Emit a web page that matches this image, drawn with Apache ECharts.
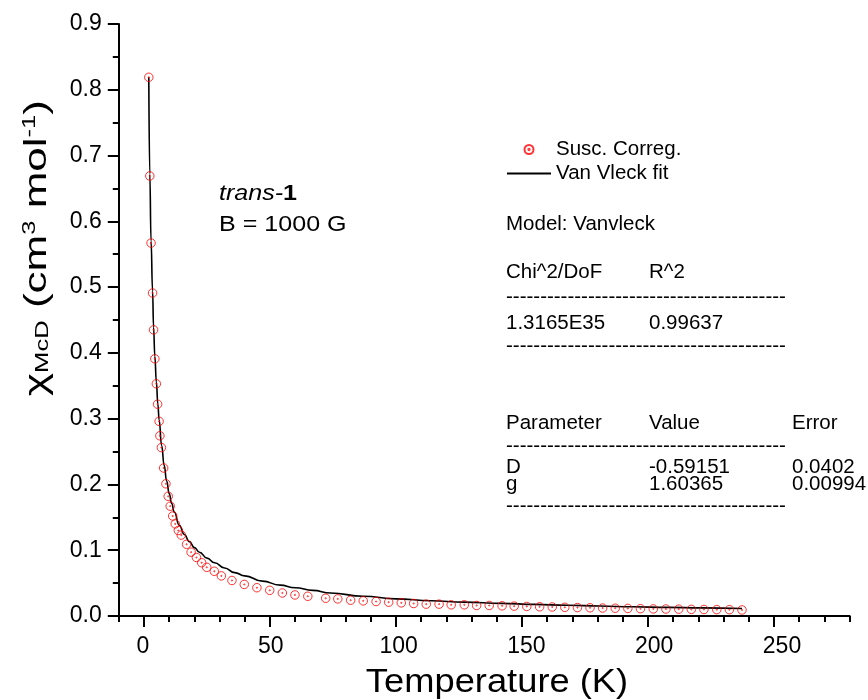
<!DOCTYPE html>
<html>
<head>
<meta charset="utf-8">
<script src="https://cdn.jsdelivr.net/npm/echarts@6/dist/echarts.min.js"></script>
<style>
  html, body { margin: 0; padding: 0; background: #fff; }
  #chart { width: 868px; height: 700px; }
</style>
</head>
<body>
<div id="chart"></div>
<script>
// Measured susceptibility (corrected) vs temperature
const temperature = [1.9, 2.3, 2.8, 3.4, 3.8, 4.3, 4.9, 5.4, 6.0, 6.3, 6.9, 7.8, 8.7, 9.6, 10.4, 11.4, 12.4, 13.6, 14.8, 16.9,
  18.7, 20.8, 22.9, 24.9, 27.9, 30.7, 34.9, 39.8, 44.8, 49.9, 54.9, 59.9, 65.0, 72.1, 76.9, 82.0, 87.0, 92.1, 97.1, 102.1,
  107.0, 112.0, 117.1, 121.9, 127.1, 132.0, 137.0, 142.1, 146.9, 151.9, 157.0, 162.0, 167.0, 172.0, 177.0, 182.0, 187.0,
  192.0, 197.0, 202.1, 207.1, 212.2, 217.2, 222.2, 227.3, 232.3, 237.3];
const chiMcD = [0.819, 0.669, 0.567, 0.491, 0.435, 0.391, 0.353, 0.322, 0.296, 0.274, 0.256, 0.225, 0.201, 0.182, 0.167, 0.152,
  0.140, 0.130, 0.123, 0.109, 0.097, 0.089, 0.081, 0.074, 0.068, 0.061, 0.054, 0.048, 0.043, 0.039, 0.035, 0.032, 0.030,
  0.027, 0.026, 0.024, 0.023, 0.022, 0.021, 0.020, 0.019, 0.018, 0.018, 0.017, 0.017, 0.016, 0.016, 0.0155, 0.0150, 0.0145,
  0.0140, 0.0137, 0.0132, 0.0128, 0.0125, 0.0121, 0.0118, 0.0115, 0.0111, 0.0108, 0.0106, 0.0104, 0.0101, 0.0099, 0.0097,
  0.0096, 0.0092];

// Van Vleck fit curve
const fitTemperature = [1.9, 2.3, 2.8, 3.4, 3.8, 4.3, 4.9, 5.5, 6.0, 7.0, 8.0, 9.0, 10, 11, 12, 14, 16, 18, 20, 22, 25, 28,
  32, 36, 40, 47, 54, 60, 67, 74, 87, 100, 114, 127, 142, 155, 168, 181, 194, 208, 221, 237.3];
const fitChi = [0.819, 0.672, 0.570, 0.494, 0.439, 0.395, 0.356, 0.322, 0.298, 0.259, 0.229, 0.205, 0.186, 0.171, 0.158,
  0.138, 0.124, 0.113, 0.104, 0.097, 0.088, 0.081, 0.073, 0.066, 0.061, 0.053, 0.047, 0.043, 0.039, 0.035, 0.030, 0.026,
  0.0232, 0.0211, 0.0192, 0.0176, 0.0163, 0.0151, 0.0140, 0.0131, 0.0123, 0.0114];

// Axis ticks
const xMajorTicks = [0, 50, 100, 150, 200, 250];
const xMinorTicks = [-10, 10, 20, 30, 40, 60, 70, 80, 90, 110, 120, 130, 140, 160, 170, 180, 190, 210, 220, 230, 240, 260, 270, 280];

// Fit report
const fitModel = 'Model: Vanvleck';
const statHeaders = ['Chi^2/DoF', 'R^2'];
const statValues = ['1.3165E35', '0.99637'];
const paramHeaders = ['Parameter', 'Value', 'Error'];
const paramRows = [['D', '-0.59151', '0.0402'], ['g', '1.60365', '0.00994']];

const FONT = 'Liberation Sans, Arial, sans-serif';
const DASHES = '-'.repeat(41);

const chart = echarts.init(document.getElementById('chart'), null, { renderer: 'canvas' });

// open circle with a centre dot
const ring = 'path://M0,-10A10,10 0 1,0 0,10A10,10 0 1,0 0,-10Z M0,-1.4A1.4,1.4 0 1,0 0,1.4A1.4,1.4 0 1,0 0,-1.4Z';

function txt(text, x, y, size, opts) {
  const o = opts || {};
  return {
    type: 'text', x: x, y: y, silent: true, scaleX: o.scaleX || 1,
    style: { text: text, fill: '#000', fontSize: size, fontFamily: FONT, align: o.align || 'left', verticalAlign: 'middle' }
  };
}

const tableSize = 20.5;
const noteScale = 1.14;
const graphics = [
  {
    type: 'text', x: 219, y: 194, silent: true, scaleX: noteScale,
    style: {
      text: '{i|trans-}{b|1}', verticalAlign: 'middle', align: 'left',
      rich: {
        i: { fontSize: 22, fontFamily: FONT, fontStyle: 'italic', fill: '#000' },
        b: { fontSize: 22, fontFamily: FONT, fontWeight: 'bold', fill: '#000' }
      }
    }
  },
  txt('B = 1000 G', 219, 225, 22, { scaleX: noteScale }),
  txt(fitModel, 506, 224, tableSize),
  txt(statHeaders[0], 506, 272, tableSize),
  txt(statHeaders[1], 649, 272, tableSize),
  txt(DASHES, 506, 297, tableSize),
  txt(statValues[0], 506, 323, tableSize),
  txt(statValues[1], 649, 323, tableSize),
  txt(DASHES, 506, 346, tableSize),
  txt(paramHeaders[0], 506, 423, tableSize),
  txt(paramHeaders[1], 649, 423, tableSize),
  txt(paramHeaders[2], 792, 423, tableSize),
  txt(DASHES, 506, 446, tableSize),
  txt(paramRows[0][0], 506, 467, tableSize),
  txt(paramRows[0][1], 649, 467, tableSize),
  txt(paramRows[0][2], 792, 467, tableSize),
  txt(paramRows[1][0], 506, 484, tableSize),
  txt(paramRows[1][1], 649, 484, tableSize),
  txt(paramRows[1][2], 792, 484, tableSize),
  txt(DASHES, 506, 506, tableSize),
  // axis titles
  txt('Temperature (K)', 497, 683, 33, { align: 'center', scaleX: 1.1 }),
  {
    type: 'text', x: 37, y: 248, rotation: Math.PI / 2, scaleX: 1.42, silent: true,
    style: {
      text: '{m|χ}{s|McD}{m| (cm}{p|3}{m| mol}{p|-1}{m|)}', align: 'center', verticalAlign: 'middle',
      rich: {
        m: { fontSize: 31, fontFamily: FONT, fill: '#000', verticalAlign: 'middle' },
        s: { fontSize: 18, fontFamily: FONT, fill: '#000', verticalAlign: 'bottom' },
        p: { fontSize: 18, fontFamily: FONT, fill: '#000', verticalAlign: 'top' }
      }
    }
  }
];

const option = {
  backgroundColor: '#fff',
  animation: false,
  textStyle: { fontFamily: FONT },
  grid: { left: 118.8, right: 18.4, top: 24, bottom: 84, containLabel: false },
  legend: {
    left: 506, top: 139, padding: 0, orient: 'vertical', itemWidth: 44, itemHeight: 9, itemGap: 3,
    textStyle: { fontSize: tableSize, fontFamily: FONT, color: '#000' },
    data: [
      { name: 'Susc. Correg.' },
      { name: 'Van Vleck fit', itemStyle: { opacity: 0 } }
    ]
  },
  xAxis: [
    {
      // data scale with minor ticks
      type: 'value', min: -10, max: 280, interval: 10,
      axisLine: { show: true, onZero: false, lineStyle: { color: '#000', width: 2 } },
      axisTick: { show: true, length: 6, lineStyle: { color: '#000', width: 2 }, customValues: xMinorTicks },
      axisLabel: { show: false },
      splitLine: { show: false }
    },
    {
      // major ticks
      type: 'value', min: -10, max: 280, position: 'bottom',
      axisLine: { show: false },
      axisTick: { show: true, length: 11, lineStyle: { color: '#000', width: 2 }, customValues: xMajorTicks },
      axisLabel: { show: false },
      splitLine: { show: false }
    },
    {
      // tick labels, spread slightly wider than the ticks
      type: 'value', min: -9.47, max: 276.44, position: 'bottom',
      axisLine: { show: false },
      axisTick: { show: false },
      axisLabel: { show: true, customValues: xMajorTicks, margin: 19, fontSize: 23, fontFamily: FONT, color: '#000' },
      splitLine: { show: false }
    }
  ],
  yAxis: {
    type: 'value', min: 0, max: 0.9, interval: 0.1,
    axisLine: { show: true, onZero: false, lineStyle: { color: '#000', width: 2 } },
    axisTick: { show: true, length: 11, lineStyle: { color: '#000', width: 2 } },
    minorTick: { show: true, splitNumber: 2, length: 6, lineStyle: { color: '#000', width: 2 } },
    axisLabel: { margin: 17, fontSize: 23, fontFamily: FONT, color: '#000', formatter: v => v.toFixed(1) },
    splitLine: { show: false }
  },
  series: [
    {
      name: 'Susc. Correg.', type: 'scatter', xAxisIndex: 0,
      symbol: ring, symbolSize: 8.5, symbolKeepAspect: true,
      itemStyle: { color: 'rgba(255,255,255,0)', borderColor: '#ff0000', borderWidth: 1 },
      data: temperature.map((t, i) => [t, chiMcD[i]]),
      z: 3
    },
    {
      name: 'Van Vleck fit', type: 'line', xAxisIndex: 0,
      symbol: 'none', smooth: true, smoothMonotone: 'x',
      lineStyle: { color: '#000', width: 1.6 },
      itemStyle: { color: '#000' },
      data: fitTemperature.map((t, i) => [t, fitChi[i]]),
      z: 2
    }
  ],
  graphic: graphics
};

chart.setOption(option);
</script>
</body>
</html>
